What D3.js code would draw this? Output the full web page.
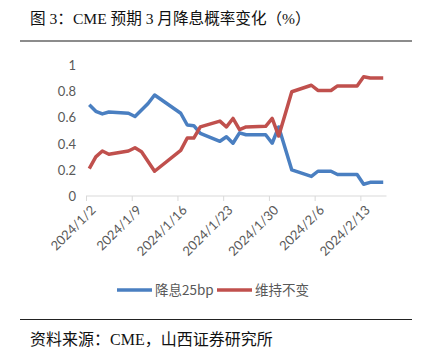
<!DOCTYPE html>
<html><head><meta charset="utf-8">
<script src="https://cdn.jsdelivr.net/npm/d3@7"></script>
<style>body{margin:0;background:#fff}svg{display:block}</style>
</head><body><svg id="c" width="430" height="352"></svg>
<script>
const dates = ["2024-01-02","2024-01-03","2024-01-04","2024-01-05","2024-01-08","2024-01-09","2024-01-10","2024-01-11","2024-01-12",
"2024-01-16","2024-01-17","2024-01-18","2024-01-19","2024-01-22","2024-01-23","2024-01-24","2024-01-25","2024-01-26",
"2024-01-29","2024-01-30","2024-01-31","2024-02-01","2024-02-02","2024-02-05","2024-02-06","2024-02-07","2024-02-08","2024-02-09",
"2024-02-12","2024-02-13","2024-02-14","2024-02-15","2024-02-16"];
const cut25 = [0.70,0.65,0.63,0.645,0.635,0.61,0.66,0.71,0.775,
0.635,0.545,0.54,0.48,0.42,0.455,0.405,0.485,0.47,
0.47,0.405,0.53,0.365,0.20,0.15,0.19,0.19,0.19,0.165,
0.165,0.09,0.105,0.105,0.105];
const hold = [0.21,0.30,0.345,0.32,0.345,0.37,0.34,0.265,0.19,
0.35,0.445,0.445,0.53,0.575,0.53,0.595,0.51,0.53,
0.535,0.595,0.46,0.63,0.80,0.85,0.81,0.81,0.81,0.845,
0.845,0.915,0.905,0.905,0.905];
const tickDates = ["2024-01-02","2024-01-09","2024-01-16","2024-01-23","2024-01-30","2024-02-06","2024-02-13"];
const tickLabels = ["2024/1/2","2024/1/9","2024/1/16","2024/1/23","2024/1/30","2024/2/6","2024/2/13"];
const yTicks = [0,0.2,0.4,0.6,0.8,1];
const seriesNames = ["降息25bp","维持不变"];
const colors = ["#4a7fc1","#c0504d"];

const svg = d3.select("#c");
const parse = d3.utcParse("%Y-%m-%d");
const DAY = 864e5;
const x = d3.scaleUtc().domain([parse("2024-01-02"), parse("2024-02-17")]).range([86, 386.5]);
const y = d3.scaleLinear().domain([0,1]).range([196, 65.7]);

// title
svg.append("text").attr("x",30).attr("y",24)
  .attr("font-family","'Liberation Serif','Noto Sans CJK SC',serif").attr("font-size",15.6).attr("fill","#111")
  .text("图 3：CME 预期 3 月降息概率变化（%）");
svg.append("line").attr("x1",20).attr("x2",412).attr("y1",41).attr("y2",41).attr("stroke","#8c8c8c").attr("stroke-width",2);

// y axis labels
const yAxis = d3.axisLeft(y).tickValues(yTicks).tickSize(0).tickPadding(0).tickFormat(d3.format("~g"));
const gy = svg.append("g").attr("transform","translate(76,0)").call(yAxis);
gy.select(".domain").remove();
gy.selectAll("text").attr("font-family","Lato,'Open Sans',sans-serif").attr("font-size",13).attr("fill","#595959");

// x axis
const xAxis = d3.axisBottom(x).tickValues(tickDates.map(parse)).tickSize(5).tickFormat((d,i)=>tickLabels[i]);
const gx = svg.append("g").attr("transform","translate(0,196)").call(xAxis);
gx.select(".domain").attr("stroke","#d9d9d9").attr("d","M86,0H386.5");
gx.selectAll(".tick line").attr("stroke","#d9d9d9");
gx.selectAll("text").attr("font-family","Lato,'Open Sans',sans-serif").attr("font-size",13).attr("fill","#595959")
  .attr("text-anchor","end").attr("dy",0).attr("y",0)
  .attr("transform","translate(10,15) rotate(-45)");

// lines
const line = d3.line().x((d)=>x(new Date(parse(d[0]).getTime()+DAY/2))).y(d=>y(d[1]));
[cut25, hold].forEach((vals,k)=>{
  svg.append("path").datum(dates.map((d,i)=>[d,vals[i]]))
    .attr("d",line).attr("fill","none").attr("stroke",colors[k]).attr("stroke-width",3.5)
    .attr("stroke-linejoin","round");
});

// legend
const legX = [117, 217];
seriesNames.forEach((n,k)=>{
  svg.append("line").attr("x1",legX[k]).attr("x2",legX[k]+35).attr("y1",290).attr("y2",290)
    .attr("stroke",colors[k]).attr("stroke-width",3.5);
  svg.append("text").attr("x",legX[k]+38).attr("y",295)
    .attr("font-family","'Noto Sans CJK SC',sans-serif").attr("font-size",13.5).attr("fill","#595959").text(n);
});

// footer
svg.append("line").attr("x1",20).attr("x2",412).attr("y1",319.5).attr("y2",319.5).attr("stroke","#222").attr("stroke-width",1);
svg.append("text").attr("x",30).attr("y",345)
  .attr("font-family","'Liberation Serif','Noto Sans CJK SC',serif").attr("font-size",16).attr("fill","#111")
  .text("资料来源：CME，山西证券研究所");
</script></body></html>
